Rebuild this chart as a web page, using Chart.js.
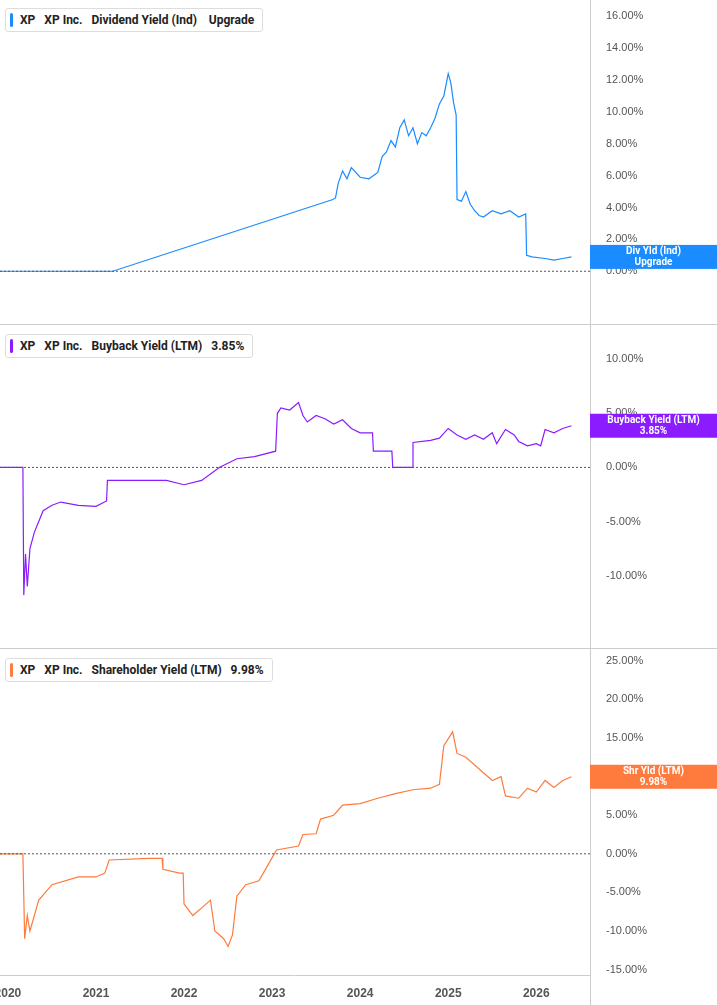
<!DOCTYPE html>
<html><head><meta charset="utf-8">
<script src="https://cdn.jsdelivr.net/npm/chart.js@4/dist/chart.umd.min.js"></script>
<style>
body{margin:0;background:#fff;font-family:Roboto,Arial,sans-serif;}
.p{position:absolute;left:0;width:717px;}
.leg{position:absolute;left:5px;background:#fff;border:1px solid #ddd;border-radius:3px;padding:4px 8px 4px 14px;font-size:12px;font-weight:bold;color:#222;white-space:nowrap}
.leg i{position:absolute;left:4px;top:4px;bottom:4px;width:3px;border-radius:2px}
.sep{position:absolute;left:0;width:717px;height:1px;background:#ccc}
</style></head><body>
<div class="p" style="top:0;height:325px"><canvas id="c1"></canvas></div>
<div class="p" style="top:325px;height:325px"><canvas id="c2"></canvas></div>
<div class="p" style="top:650px;height:355px"><canvas id="c3"></canvas></div>
<div class="sep" style="top:324px"></div><div class="sep" style="top:648px"></div>
<div class="leg" style="top:8px"><i style="background:#1a8cff"></i>XP&nbsp;&nbsp; XP Inc.&nbsp;&nbsp; Dividend Yield (Ind)&nbsp;&nbsp;&nbsp; Upgrade</div>
<div class="leg" style="top:334px"><i style="background:#8a1cff"></i>XP&nbsp;&nbsp; XP Inc.&nbsp;&nbsp; Buyback Yield (LTM)&nbsp;&nbsp; 3.85%</div>
<div class="leg" style="top:658px"><i style="background:#ff7a3d"></i>XP&nbsp;&nbsp; XP Inc.&nbsp;&nbsp; Shareholder Yield (LTM)&nbsp;&nbsp; 9.98%</div>
<script>
const xMin=2019.91, xMax=2026.61;
const years=[2020,2021,2022,2023,2024,2025,2026];
const divX=[2019.91,2021.19,2023.69,2023.72,2023.75,2023.8,2023.85,2023.9,2024.0,2024.1,2024.2,2024.25,2024.3,2024.35,2024.4,2024.45,2024.5,2024.55,2024.6,2024.65,2024.7,2024.75,2024.8,2024.85,2024.9,2024.95,2025.0,2025.03,2025.06,2025.09,2025.1,2025.15,2025.2,2025.25,2025.3,2025.35,2025.4,2025.5,2025.6,2025.7,2025.8,2025.88,2025.89,2025.95,2026.1,2026.2,2026.3,2026.4];
const divY=[0,0,4.5,4.6,5.5,6.3,5.8,6.5,5.9,5.8,6.2,7.2,7.5,8.2,7.8,9.0,9.5,8.5,9.0,8.0,8.7,8.5,9.0,9.6,10.5,11.0,12.4,11.8,10.6,9.8,4.5,4.4,5.0,4.2,3.8,3.5,3.4,3.8,3.6,3.8,3.4,3.6,1.0,0.9,0.8,0.7,0.8,0.9];
const bbX=[2019.91,2020.17,2020.18,2020.2,2020.22,2020.25,2020.3,2020.35,2020.4,2020.5,2020.6,2020.8,2021.0,2021.12,2021.13,2021.5,2021.8,2022.0,2022.2,2022.4,2022.6,2022.8,2023.04,2023.06,2023.1,2023.2,2023.3,2023.35,2023.4,2023.5,2023.6,2023.7,2023.8,2023.9,2024.0,2024.14,2024.15,2024.36,2024.37,2024.59,2024.6,2024.8,2024.9,2025.0,2025.1,2025.2,2025.3,2025.4,2025.5,2025.55,2025.65,2025.75,2025.8,2025.9,2026.0,2026.05,2026.1,2026.2,2026.3,2026.4];
const bbY=[0,0,-11.8,-8,-11,-7.5,-6,-5,-4,-3.5,-3.2,-3.5,-3.6,-3.1,-1.2,-1.2,-1.2,-1.6,-1.2,0,0.8,1.0,1.5,5,5.5,5.3,6,4.8,4.2,4.8,4.5,4.0,4.4,3.6,3.2,3.2,1.5,1.5,0,0,2.3,2.5,2.7,3.6,3.0,2.6,3.0,2.6,3.2,2.2,3.5,3.0,2.4,2.0,2.2,2.0,3.5,3.2,3.6,3.85];
const shX=[2019.91,2020.17,2020.19,2020.22,2020.25,2020.35,2020.5,2020.8,2021.0,2021.1,2021.15,2021.6,2021.75,2021.76,2021.95,2021.99,2022.0,2022.1,2022.2,2022.3,2022.35,2022.45,2022.5,2022.55,2022.6,2022.7,2022.85,2022.95,2023.05,2023.3,2023.35,2023.5,2023.55,2023.7,2023.8,2024.0,2024.2,2024.4,2024.6,2024.8,2024.9,2024.95,2025.05,2025.1,2025.2,2025.3,2025.4,2025.5,2025.6,2025.65,2025.8,2025.9,2026.0,2026.1,2026.2,2026.3,2026.4];
const shY=[0,0,-11,-8,-10,-6,-4,-3,-3,-2.5,-0.8,-0.6,-0.6,-2,-2.5,-2.5,-6.5,-8,-7,-6,-10,-11,-12,-10.5,-5.5,-4,-3.5,-1.5,0.5,1.0,2.5,2.6,4.5,5,6.3,6.5,7.2,7.8,8.3,8.5,9.0,14,15.8,13,12.5,11.5,10.5,9.5,10,7.5,7.2,8.5,8.0,9.5,8.6,9.5,9.98];
function pts(xs,ys){return xs.map((x,i)=>({x:x,y:ys[i]}));}
function mk(id,xs,ys,color,min,max,step,tmin,tmax,lab1,lab2,showX){
 const plug={id:'p'+id,afterDatasetsDraw(ch){
  const c=ch.ctx,a=ch.chartArea,ys_=ch.scales.y;
  const y0=ys_.getPixelForValue(0);
  c.save();c.strokeStyle='#555';c.setLineDash([2,2]);c.lineWidth=1;
  c.beginPath();c.moveTo(a.left,y0);c.lineTo(a.right,y0);c.stroke();c.setLineDash([]);
  c.strokeStyle='#ccc';c.beginPath();c.moveTo(a.right+0.5,0);c.lineTo(a.right+0.5,ch.height);c.stroke();
  const yv=ys_.getPixelForValue(ys[ys.length-1]);
  c.fillStyle=color;c.fillRect(a.right,yv-12,717-a.right,24);
  c.fillStyle='#fff';c.font='bold 10px Roboto';c.textAlign='center';c.textBaseline='middle';
  const cx=(a.right+717)/2;c.fillText(lab1,cx,yv-5);c.fillText(lab2,cx,yv+6);
  c.restore();}};
 new Chart(document.getElementById(id),{type:'line',
  data:{datasets:[{data:pts(xs,ys),borderColor:color,borderWidth:1.2,pointRadius:0,tension:0}]},
  options:{responsive:true,maintainAspectRatio:false,animation:false,
   layout:{padding:0},plugins:{legend:{display:false},tooltip:{enabled:false}},
   scales:{
    x:{type:'linear',min:xMin,max:xMax,display:showX,grid:{display:false},border:{display:true,color:'#ccc'},
      afterFit(s){s.paddingLeft=0;s.paddingRight=0;s.height=30;},
      afterBuildTicks(s){s.ticks=years.map(v=>({value:v}));},
      ticks:{color:'#555',font:{size:12,weight:'bold'},maxRotation:0,callback:v=>String(v)}},
    y:{position:'right',min:min,max:max,grid:{display:false},border:{display:false},
      afterFit(s){s.width=127;s.paddingTop=0;s.paddingBottom=0;},
      afterBuildTicks(s){const t=[];for(let v=tmin;v<=tmax+1e-9;v+=step)t.push({value:v});s.ticks=t;},
      ticks:{color:'#555',font:{size:11},padding:8,callback:v=>v.toFixed(2)+'%'}}}},
  plugins:[plug]});
}
mk('c1',divX,divY,'#1a8cff',-1.49,17.02,2,0,16,'Div Yld (Ind)','Upgrade',false);
mk('c2',bbX,bbY,'#8a1cff',-14.1,13.16,5,-10,10,'Buyback Yield (LTM)','3.85%',false);
mk('c3',shX,shY,'#ff7a3d',-15.7,26.4,5,-15,25,'Shr Yld (LTM)','9.98%',true);
</script></body></html>
